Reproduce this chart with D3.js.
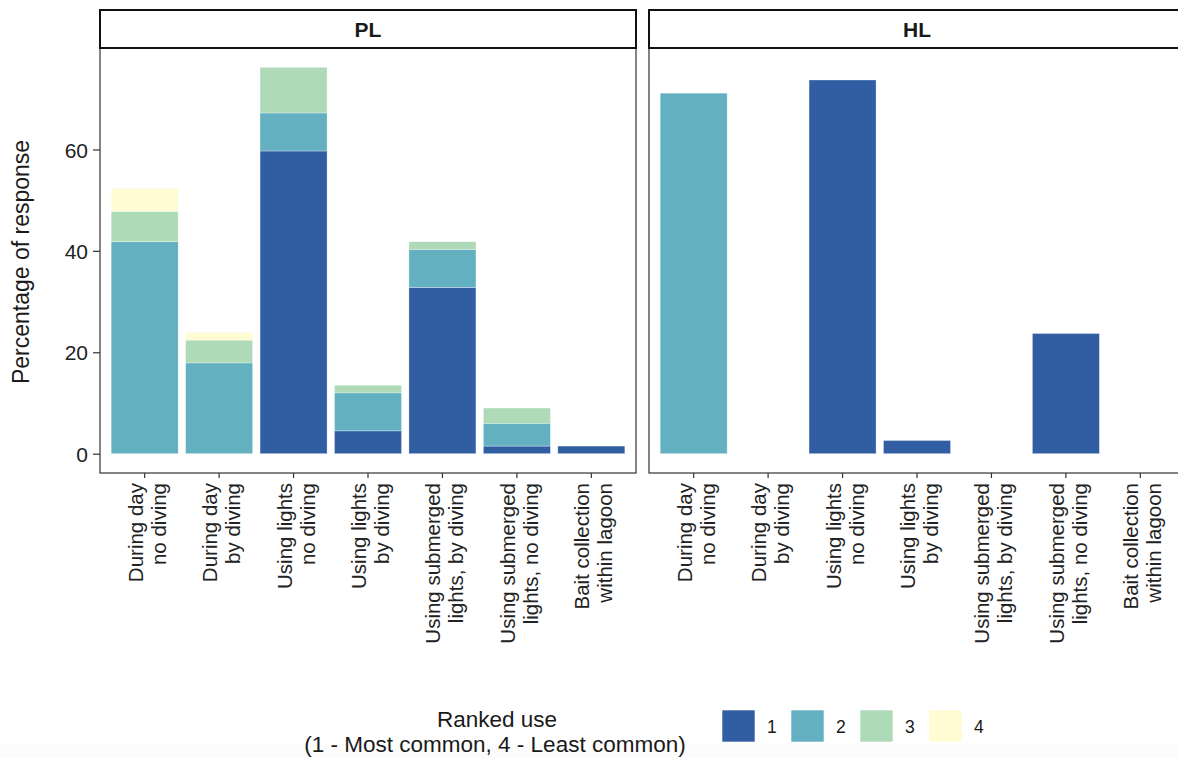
<!doctype html>
<html lang="en">
<head>
<script src="https://d3js.org/d3.v7.min.js"></script>
<style>
  body { margin: 0; background: #fff; }
  text { font-family: "Liberation Sans", Arial, sans-serif; fill: #1a1a1a; }
  .strip-text { font-weight: bold; font-size: 21px; text-anchor: middle; }
  .tick text { font-size: 21px; fill: #222; }
  .axis-title { font-size: 23px; text-anchor: middle; }
  .legend-title { font-size: 22.5px; text-anchor: middle; }
  .legend-label { font-size: 17.5px; }
</style>
</head>
<body>
<div id="chart"></div>
<script>
  // categories (x axis labels, split on lines)
  let categories = [
    ["During day", "no diving"],
    ["During day", "by diving"],
    ["Using lights", "no diving"],
    ["Using lights", "by diving"],
    ["Using submerged", "lights, by diving"],
    ["Using submerged", "lights, no diving"],
    ["Bait collection", "within lagoon"]
  ];
  let panels = ["PL", "HL"];
  let ranks = ["1", "2", "3", "4"];
  let rankColors = ["#315DA2", "#63B0C1", "#AEDAB7", "#FFFCD3"];

  // percentage of response per rank, PL
  let rank1PL = [0, 0, 59.7, 4.5, 32.8, 1.5, 1.5];
  let rank2PL = [41.8, 17.9, 7.5, 7.5, 7.5, 4.5, 0];
  let rank3PL = [6.0, 4.5, 9.0, 1.5, 1.5, 3.0, 0];
  let rank4PL = [4.5, 1.5, 0, 0, 0, 0, 0];
  // HL
  let rank1HL = [0, 0, 73.7, 2.6, 0, 23.7, 0];
  let rank2HL = [71.1, 0, 0, 0, 0, 0, 0];
  let rank3HL = [0, 0, 0, 0, 0, 0, 0];
  let rank4HL = [0, 0, 0, 0, 0, 0, 0];

  let yTicks = [0, 20, 40, 60];

  let seriesByPanel = {
    PL: [rank1PL, rank2PL, rank3PL, rank4PL],
    HL: [rank1HL, rank2HL, rank3HL, rank4HL]
  };

  let width = 1178, height = 758;
  let panelW = 536, panelTop = 48, panelBottom = 473, stripTop = 10;
  let panelX = { PL: 100, HL: 649 };

  let svg = d3.select("#chart").append("svg")
      .attr("width", width).attr("height", height);

  // very faint grey band along the bottom edge
  svg.append("rect").attr("x", 0).attr("y", 744).attr("width", width).attr("height", 14)
      .attr("fill", "#fcfcfc");

  let catKeys = categories.map((d, i) => "c" + i);

  let xScale = d3.scaleBand()
      .domain(catKeys)
      .range([0, panelW])
      .paddingInner(0.1)
      .paddingOuter(0.15);

  let maxTotal = d3.max(panels, p => d3.max(catKeys, (c, i) => d3.sum(seriesByPanel[p], s => s[i])));
  let pad = maxTotal * 0.05;
  let yScale = d3.scaleLinear().domain([-pad, maxTotal + pad]).range([panelBottom, panelTop]);

  let colorScale = d3.scaleOrdinal().domain(ranks).range(rankColors);

  panels.forEach(function(p, pi) {
    let g = svg.append("g").attr("transform", "translate(" + panelX[p] + ",0)");

    // rows for stacking
    let rows = catKeys.map(function(c, i) {
      let row = { cat: c };
      ranks.forEach(function(r, ri) { row[r] = seriesByPanel[p][ri][i]; });
      return row;
    });
    let stacked = d3.stack().keys(ranks)(rows);

    g.selectAll("g.layer")
      .data(stacked)
      .enter().append("g")
      .attr("class", "layer")
      .attr("fill", d => colorScale(d.key))
      .selectAll("rect")
      .data(d => d.filter(v => v[1] - v[0] > 0))
      .enter().append("rect")
      .attr("x", d => xScale(d.data.cat))
      .attr("width", xScale.bandwidth())
      .attr("y", d => yScale(d[1]))
      .attr("height", d => yScale(d[0]) - yScale(d[1]))
      .attr("stroke", "#ffffff")
      .attr("stroke-opacity", 0.5)
      .attr("stroke-width", 0.6);

    // panel border
    g.append("rect")
      .attr("x", 0).attr("y", panelTop)
      .attr("width", panelW).attr("height", panelBottom - panelTop)
      .attr("fill", "none").attr("stroke", "#333").attr("stroke-width", 1.2);

    // strip
    g.append("rect")
      .attr("x", 0).attr("y", stripTop)
      .attr("width", panelW).attr("height", panelTop - stripTop)
      .attr("fill", "#fff").attr("stroke", "#111").attr("stroke-width", 2);
    g.append("text").attr("class", "strip-text")
      .attr("x", panelW / 2).attr("y", 37).text(p);

    // x axis
    let xAxis = g.append("g")
      .attr("transform", "translate(0," + panelBottom + ")")
      .call(d3.axisBottom(xScale).tickSize(5).tickSizeOuter(0).tickFormat(""));
    xAxis.select(".domain").remove();
    xAxis.selectAll(".tick line").attr("stroke", "#333").attr("stroke-width", 1.2);
    xAxis.selectAll(".tick").each(function(c, i) {
      let t = d3.select(this).append("text")
        .attr("transform", "translate(0,10) rotate(-90)")
        .attr("text-anchor", "end")
        .style("font-size", "20.5px")
        .attr("fill", "#222");
      categories[i].forEach(function(line, li) {
        t.append("tspan").attr("x", 0).attr("y", li === 0 ? -2 : 21).text(line);
      });
    });

    // y axis only on first panel
    if (pi === 0) {
      let yAxis = g.append("g")
        .call(d3.axisLeft(yScale).tickValues(yTicks).tickSize(7).tickPadding(5));
      yAxis.select(".domain").remove();
      yAxis.selectAll(".tick line").attr("stroke", "#333").attr("stroke-width", 1.2);
      yAxis.selectAll(".tick text").attr("dy", "0.36em");
    }
  });

  // y axis title
  svg.append("text").attr("class", "axis-title")
    .attr("transform", "translate(29," + 262 + ") rotate(-90)")
    .text("Percentage of response");

  // legend
  let legend = svg.append("g");
  legend.append("text").attr("class", "legend-title")
    .attr("x", 497).attr("y", 727).text("Ranked use");
  legend.append("text").attr("class", "legend-title")
    .attr("x", 495).attr("y", 752).text("(1 - Most common, 4 - Least common)");

  let keyX = d3.scalePoint().domain(ranks).range([722, 929]);
  let keys = legend.selectAll("g.key").data(ranks).enter().append("g")
    .attr("class", "key")
    .attr("transform", d => "translate(" + keyX(d) + ",710)");
  keys.append("rect").attr("width", 33).attr("height", 32)
    .attr("fill", d => colorScale(d))
    .attr("stroke", "#fff").attr("stroke-width", 0.6);
  keys.append("text").attr("class", "legend-label")
    .attr("x", 45).attr("y", 23).text(d => d);
</script>
</body>
</html>
